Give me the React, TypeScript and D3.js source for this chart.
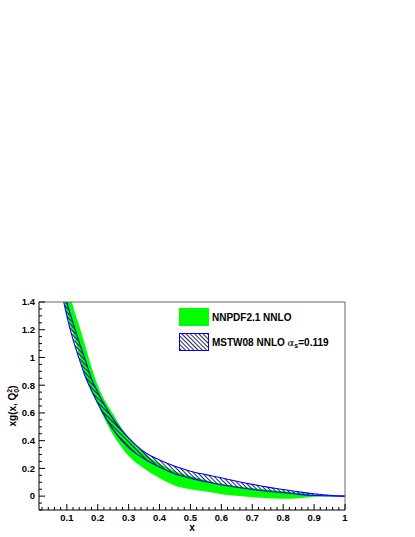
import React from "react";
import * as d3 from "d3";

const xGrid = [0.08, 0.09, 0.1, 0.12, 0.14, 0.16, 0.18, 0.2, 0.25, 0.3, 0.35, 0.4, 0.45, 0.5, 0.55, 0.6, 0.65, 0.7, 0.75, 0.8, 0.85, 0.9, 0.95, 1.0];
const nnpdfUpper = [1.75, 1.65, 1.55, 1.37, 1.23, 1.08, 0.93, 0.8, 0.59, 0.42, 0.31, 0.235, 0.18, 0.145, 0.115, 0.088, 0.072, 0.058, 0.046, 0.035, 0.023, 0.012, 0.004, 0];
const nnpdfLower = [1.49, 1.4, 1.31, 1.17, 1.02, 0.86, 0.76, 0.66, 0.44, 0.29, 0.2, 0.13, 0.075, 0.05, 0.033, 0.014, 0.002, -0.008, -0.015, -0.019, -0.015, -0.005, 0, 0];
const mstwUpper = [1.6, 1.5, 1.4, 1.25, 1.11, 0.98, 0.845, 0.75, 0.555, 0.42, 0.32, 0.26, 0.215, 0.18, 0.155, 0.132, 0.107, 0.085, 0.065, 0.048, 0.031, 0.017, 0.006, 0];
const mstwLower = [1.5, 1.4, 1.3, 1.13, 0.99, 0.86, 0.76, 0.67, 0.48, 0.35, 0.27, 0.21, 0.16, 0.13, 0.104, 0.082, 0.064, 0.048, 0.035, 0.024, 0.013, 0.005, 0.001, 0];

const xTickValues = [0.1, 0.2, 0.3, 0.4, 0.5, 0.6, 0.7, 0.8, 0.9, 1.0];
const xTickLabels = ["0.1", "0.2", "0.3", "0.4", "0.5", "0.6", "0.7", "0.8", "0.9", "1"];
const yTickValues = [0, 0.2, 0.4, 0.6, 0.8, 1.0, 1.2, 1.4];
const yTickLabels = ["0", "0.2", "0.4", "0.6", "0.8", "1", "1.2", "1.4"];
const legendLabels = ["NNPDF2.1 NNLO", "MSTW08 NNLO"];

const W = 415, H = 537;
const L = 39, R = 345, T = 302, B = 510;
const FONT = "'Liberation Sans', Arial, Helvetica, sans-serif";

export default function App() {
  const x = d3.scaleLinear().domain([0.01, 1]).range([L, R]);
  const y = d3.scaleLinear().domain([-0.1, 1.4]).range([B, T]);

  const idx = xGrid.map((_, i) => i);
  const greenArea = d3.area<number>()
    .x((i) => x(xGrid[i]))
    .y0((i) => y(nnpdfLower[i]))
    .y1((i) => y(nnpdfUpper[i]))
    .curve(d3.curveMonotoneX)(idx) || "";
  const mstwArea = d3.area<number>()
    .x((i) => x(xGrid[i]))
    .y0((i) => y(mstwLower[i]))
    .y1((i) => y(mstwUpper[i]))
    .curve(d3.curveMonotoneX)(idx) || "";
  const lineOf = (arr: number[]) =>
    d3.line<number>().x((i) => x(xGrid[i])).y((i) => y(arr[i])).curve(d3.curveMonotoneX)(idx) || "";

  const xMinor = d3.range(0.02, 1.0001, 0.02).filter((v) => Math.abs(Math.round(v * 10) - v * 10) > 1e-6);
  const yMinor = d3.range(-0.1, 1.4001, 0.05).filter((v) => Math.abs(Math.round(v * 5) - v * 5) > 1e-6);

  return (
    <svg width={W} height={H} style={{ position: "absolute", left: 0, top: 0, background: "#fff" }}>
      <defs>
        <clipPath id="plotclip">
          <rect x={L} y={T} width={R - L} height={B - T} />
        </clipPath>
        <pattern id="hatch" patternUnits="userSpaceOnUse" width={3} height={3} patternTransform="rotate(-45)">
          <line x1={0.5} y1={0} x2={0.5} y2={3} stroke="#10104a" strokeWidth={0.9} />
        </pattern>
      </defs>
      <rect x={0} y={0} width={W} height={H} fill="#fff" />
      <g clipPath="url(#plotclip)">
        <path d={greenArea} fill="#00ff00" />
        <path d={mstwArea} fill="url(#hatch)" />
        <path d={lineOf(mstwUpper)} fill="none" stroke="#0000ff" strokeWidth={1.1} />
        <path d={lineOf(mstwLower)} fill="none" stroke="#0000ff" strokeWidth={1.1} />
      </g>
      {/* frame */}
      <line x1={L} y1={T} x2={R} y2={T} stroke="#666" strokeWidth={1} />
      <line x1={R} y1={T} x2={R} y2={B} stroke="#666" strokeWidth={1} />
      <line x1={L} y1={T} x2={L} y2={B} stroke="#000" strokeWidth={1} />
      <line x1={L} y1={B} x2={R} y2={B} stroke="#000" strokeWidth={1} />
      {/* x ticks */}
      {xMinor.map((v, i) => (
        <line key={"xm" + i} x1={x(v)} x2={x(v)} y1={B} y2={B - 3} stroke="#000" strokeWidth={1} />
      ))}
      {xTickValues.map((v, i) => (
        <g key={"xt" + i}>
          <line x1={x(v)} x2={x(v)} y1={B} y2={B - 6} stroke="#000" strokeWidth={1} />
          <text x={x(v)} y={520.5} textAnchor="middle" fontFamily={FONT} fontWeight="bold" fontSize={9.5} fill="#000">
            {xTickLabels[i]}
          </text>
        </g>
      ))}
      {/* y ticks */}
      {yMinor.map((v, i) => (
        <line key={"ym" + i} x1={L} x2={L + 3} y1={y(v)} y2={y(v)} stroke="#000" strokeWidth={1} />
      ))}
      {yTickValues.map((v, i) => (
        <g key={"yt" + i}>
          <line x1={L} x2={L + 6} y1={y(v)} y2={y(v)} stroke="#000" strokeWidth={1} />
          <text x={35} y={y(v)} dy="0.35em" textAnchor="end" fontFamily={FONT} fontWeight="bold" fontSize={9.5} fill="#000">
            {yTickLabels[i]}
          </text>
        </g>
      ))}
      {/* axis titles */}
      <text x={(L + R) / 2} y={531} textAnchor="middle" fontFamily={FONT} fontWeight="bold" fontSize={10} fill="#000">x</text>
      <text transform={`translate(16,${(T + B) / 2}) rotate(-90)`} textAnchor="middle" fontFamily={FONT} fontWeight="bold" fontSize={10} fill="#000">
        xg(x, Q<tspan fontSize={7} dy={3}>0</tspan><tspan fontSize={7} dy={-7} dx={-4}>2</tspan><tspan dy={4}>)</tspan>
      </text>
      {/* legend */}
      <rect x={179} y={308} width={30} height={18} fill="#00ff00" />
      <text x={212} y={320.5} fontFamily={FONT} fontWeight="bold" fontSize={10} fill="#000">{legendLabels[0]}</text>
      <rect x={179.5} y={333.5} width={29} height={17} fill="url(#hatch)" stroke="#0000ff" strokeWidth={1} />
      <text x={212} y={345.5} fontFamily={FONT} fontWeight="bold" fontSize={10} fill="#000">
        {legendLabels[1]} <tspan fontFamily="'DejaVu Serif', serif" fontWeight="normal" fontStyle="italic">α</tspan><tspan fontSize={7} dy={2}>s</tspan><tspan dy={-2}>=0.119</tspan>
      </text>
    </svg>
  );
}
